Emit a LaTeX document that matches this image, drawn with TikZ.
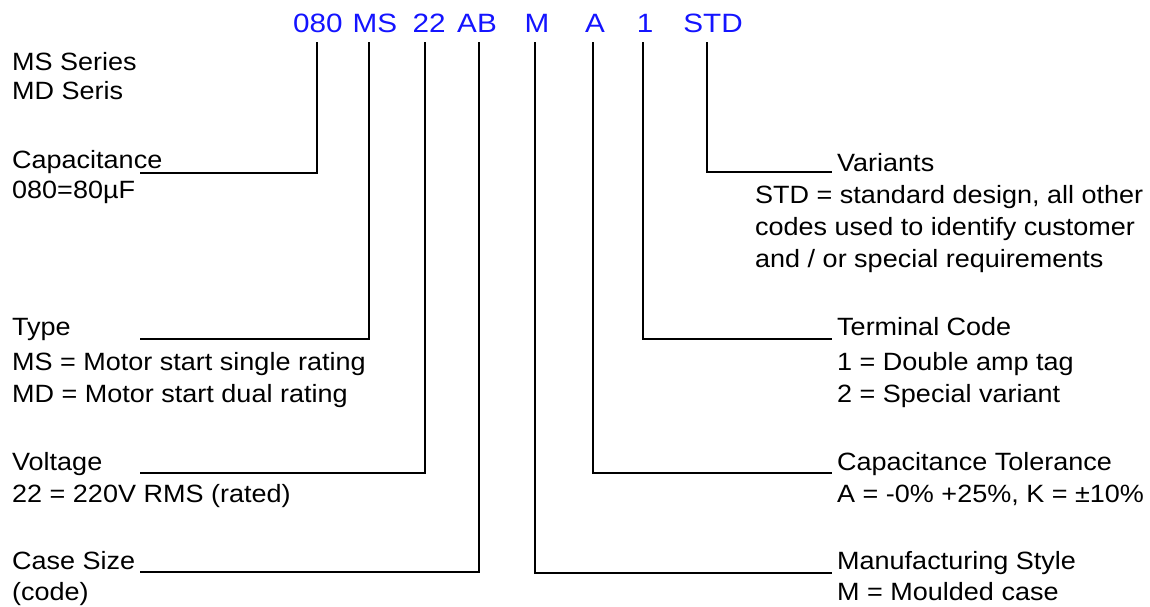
\documentclass[tikz,border=0pt]{standalone}
\usepackage{fontspec}
\setmainfont{Liberation Sans}[FakeStretch=1.08]
\newfontfamily\codefont{Liberation Sans}[FakeStretch=1.12]
\definecolor{codeblue}{RGB}{20,20,255}
\tikzset{
  lbl/.style={anchor=base west, inner sep=0pt, font=\fontsize{25}{30}\selectfont},
  code/.style={anchor=base, inner sep=0pt, text=codeblue, font=\codefont\fontsize{26.5}{30}\selectfont},
  lead/.style={draw=black, line width=1.6pt}
}
\begin{document}
\begin{tikzpicture}[x=1pt,y=-1pt]
\useasboundingbox (0,0) rectangle (1150,606);
% code row
\node[code] (c1) at (318,32) {080};
\node[code] (c2) at (375,32) {MS};
\node[code] (c3) at (429,32) {22};
\node[code] (c4) at (477,32) {AB};
\node[code] (c5) at (537,32) {M};
\node[code] (c6) at (595,32) {A};
\node[code] (c7) at (645,32) {1};
\node[code] (c8) at (713,32) {STD};
% left labels
\node[lbl] (ser1) at (12,70) {MS Series};
\node[lbl] (ser2) at (12,99) {MD Seris};
\node[lbl] (cap) at (12,168) {Capacitance};
\node[lbl] (cap2) at (12,198) {080=80µF};
\node[lbl] (typ) at (12,335) {Type};
\node[lbl] (typ2) at (12,370) {MS = Motor start single rating};
\node[lbl] (typ3) at (12,402) {MD = Motor start dual rating};
\node[lbl] (vol) at (12,470) {Voltage};
\node[lbl] (vol2) at (12,502) {22 = 220V RMS (rated)};
\node[lbl] (cas) at (12,569) {Case Size};
\node[lbl] (cas2) at (12,600) {(code)};
% right labels
\node[lbl] (var) at (837,171) {Variants};
\node[lbl] (var2) at (755,203) {STD = standard design, all other};
\node[lbl] (var3) at (755,235) {codes used to identify customer};
\node[lbl] (var4) at (755,267) {and / or special requirements};
\node[lbl] (ter) at (837,335) {Terminal Code};
\node[lbl] (ter2) at (837,370) {1 = Double amp tag};
\node[lbl] (ter3) at (837,402) {2 = Special variant};
\node[lbl] (tol) at (837,470) {Capacitance Tolerance};
\node[lbl] (tol2) at (837,502) {A = -0\% +25\%, K = ±10\%};
\node[lbl] (man) at (837,569) {Manufacturing Style};
\node[lbl] (man2) at (837,600) {M = Moulded case};
% leader end points
\coordinate (t1) at (317,42);
\coordinate (t2) at (369,42);
\coordinate (t3) at (425,42);
\coordinate (t4) at (479,42);
\coordinate (t5) at (535,42);
\coordinate (t6) at (593,42);
\coordinate (t7) at (643,42);
\coordinate (t8) at (707,42);
\coordinate (e1) at (140,173);
\coordinate (e2) at (140,339);
\coordinate (e3) at (140,473);
\coordinate (e4) at (140,572);
\coordinate (e5) at (832,573);
\coordinate (e6) at (832,473);
\coordinate (e7) at (832,339);
\coordinate (e8) at (832,172);
\draw[lead] (t1) |- (e1);
\draw[lead] (t2) |- (e2);
\draw[lead] (t3) |- (e3);
\draw[lead] (t4) |- (e4);
\draw[lead] (t5) |- (e5);
\draw[lead] (t6) |- (e6);
\draw[lead] (t7) |- (e7);
\draw[lead] (t8) |- (e8);
\end{tikzpicture}
\end{document}
